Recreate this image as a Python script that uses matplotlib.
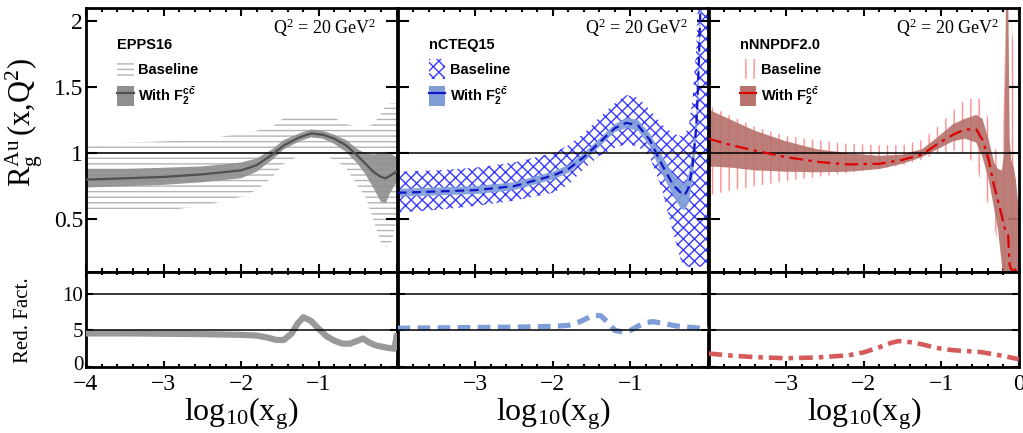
import matplotlib
matplotlib.use("Agg")
import matplotlib.pyplot as plt
import matplotlib.transforms as mtransforms
from matplotlib.patches import Patch
from matplotlib.lines import Line2D
from matplotlib.ticker import MultipleLocator, FixedLocator

plt.rcParams['font.family'] = 'Liberation Serif'
plt.rcParams['mathtext.fontset'] = 'custom'
plt.rcParams['mathtext.rm'] = 'Liberation Serif'
plt.rcParams['mathtext.it'] = 'Liberation Serif'
plt.rcParams['mathtext.bf'] = 'Liberation Sans:bold'
plt.rcParams['hatch.linewidth'] = 1.0

# ---- EPPS16 ----
epps_x = [-4.0, -3.5, -3.0, -2.5, -2.0, -1.8, -1.6, -1.45, -1.25, -1.1, -0.95,
          -0.8, -0.65, -0.5, -0.4, -0.3, -0.2, -0.14, -0.08, -0.03, 0.0]
epps_base_hi = [1.06, 1.08, 1.09, 1.10, 1.15, 1.17, 1.20, 1.27, 1.28, 1.28, 1.28,
                1.27, 1.22, 1.20, 1.20, 1.22, 1.30, 1.36, 1.38, 1.38, 1.38]
epps_base_lo = [0.55, 0.56, 0.565, 0.60, 0.67, 0.72, 0.82, 0.92, 0.98, 1.0, 0.98,
                0.95, 0.89, 0.75, 0.67, 0.50, 0.32, 0.29, 0.30, 0.40, 0.50]
epps_hi = [0.88, 0.88, 0.89, 0.90, 0.93, 0.96, 1.03, 1.10, 1.15, 1.18, 1.17,
           1.14, 1.10, 1.03, 1.00, 0.99, 1.00, 1.01, 1.00, 0.98, 0.97]
epps_lo = [0.74, 0.75, 0.76, 0.78, 0.81, 0.86, 0.95, 1.03, 1.09, 1.12, 1.11,
           1.07, 1.01, 0.92, 0.84, 0.74, 0.63, 0.62, 0.70, 0.75, 0.78]
epps_cv = [0.80, 0.81, 0.82, 0.84, 0.87, 0.91, 0.99, 1.06, 1.12, 1.15, 1.14,
           1.11, 1.06, 0.98, 0.92, 0.86, 0.82, 0.81, 0.83, 0.85, 0.86]

epps_rf_x = [-4.0, -3.5, -3.0, -2.5, -2.0, -1.8, -1.65, -1.55, -1.45, -1.35, -1.27,
             -1.2, -1.1, -1.0, -0.9, -0.8, -0.7, -0.6, -0.5, -0.43, -0.36, -0.28,
             -0.2, -0.1, -0.03, -0.01, 0.0]
epps_rf = [4.6, 4.6, 4.55, 4.5, 4.4, 4.3, 4.0, 3.7, 3.7, 4.6, 6.0,
           6.8, 6.3, 5.2, 4.2, 3.6, 3.2, 3.2, 3.6, 3.9, 3.4, 3.0,
           2.8, 2.6, 2.5, 3.5, 4.2]

# ---- nCTEQ15 ----
ncteq_x = [-4.0, -3.5, -3.0, -2.5, -2.0, -1.8, -1.6, -1.4, -1.2, -1.05, -0.9,
           -0.75, -0.6, -0.45, -0.35, -0.3, -0.25, -0.2, -0.15, -0.12, -0.1,
           -0.07, 0.0]
ncteq_base_hi = [0.86, 0.87, 0.89, 0.93, 1.00, 1.06, 1.15, 1.27, 1.38, 1.44, 1.42,
                 1.33, 1.22, 1.15, 1.13, 1.14, 1.20, 1.40, 1.80, 2.30, 2.30,
                 2.30, 2.30]
ncteq_base_lo = [0.55, 0.57, 0.60, 0.64, 0.70, 0.76, 0.88, 0.98, 1.04, 1.07, 1.05,
                 0.97, 0.74, 0.40, 0.19, 0.15, 0.14, 0.13, 0.13, 0.14, 0.14,
                 0.14, 0.14]
ncteq_hi = [0.73, 0.74, 0.75, 0.78, 0.86, 0.91, 1.00, 1.11, 1.22, 1.27, 1.25,
            1.15, 0.99, 0.84, 0.78, 0.77, 0.84, 1.00, 1.30, 1.80, 2.20,
            2.30, 2.30]
ncteq_lo = [0.67, 0.68, 0.69, 0.72, 0.80, 0.85, 0.94, 1.05, 1.16, 1.19, 1.17,
            1.05, 0.85, 0.68, 0.58, 0.57, 0.62, 0.80, 1.10, 1.50, 1.95,
            2.30, 2.30]
ncteq_cv = [0.70, 0.71, 0.72, 0.75, 0.83, 0.88, 0.97, 1.08, 1.19, 1.23, 1.21,
            1.10, 0.92, 0.76, 0.70, 0.68, 0.74, 0.90, 1.20, 1.65, 2.06,
            2.30, 2.30]

ncteq_rf_x = [-4.0, -3.5, -3.0, -2.5, -2.0, -1.8, -1.65, -1.55, -1.47, -1.38, -1.3,
              -1.2, -1.1, -1.0, -0.9, -0.8, -0.7, -0.6, -0.5, -0.4, -0.2, 0.0]
ncteq_rf = [5.3, 5.35, 5.4, 5.45, 5.55, 5.7, 6.2, 6.7, 7.1, 7.0, 6.2,
            5.0, 4.8, 5.0, 5.6, 6.1, 6.2, 6.0, 5.8, 5.6, 5.4, 5.2]

# ---- nNNPDF2.0 ----
nnpdf_x = [-4.0, -3.7, -3.4, -3.0, -2.6, -2.2, -1.8, -1.5, -1.25, -1.05, -0.85,
           -0.7, -0.55, -0.47, -0.39, -0.32, -0.27, -0.22, -0.19, -0.165, -0.14,
           -0.12, -0.1, -0.07, -0.04, 0.0]
nnpdf_base_hi = [1.36, 1.28, 1.20, 1.13, 1.10, 1.07, 1.06, 1.06, 1.10, 1.20, 1.32,
                 1.40, 1.42, 1.40, 1.25, 1.05, 1.00, 1.00, 1.50, 2.30, 2.30,
                 2.30, 2.00, 1.80, 1.60, 1.20]
nnpdf_base_lo = [0.68, 0.72, 0.75, 0.79, 0.82, 0.85, 0.88, 0.91, 0.95, 1.00, 1.02,
                 1.00, 0.90, 0.74, 0.60, 0.45, 0.30, 0.10, 0.0, 0.0, 0.0,
                 0.0, 0.0, 0.0, 0.0, 0.0]
nnpdf_hi = [1.33, 1.25, 1.17, 1.09, 1.03, 1.00, 0.98, 0.99, 1.03, 1.12, 1.22,
            1.26, 1.29, 1.26, 1.10, 0.93, 0.88, 0.87, 1.00, 2.30, 2.30,
            1.10, 0.95, 0.90, 0.80, 0.55]
nnpdf_lo = [0.90, 0.89, 0.87, 0.86, 0.855, 0.86, 0.88, 0.92, 0.97, 1.03, 1.09,
            1.11, 1.08, 0.97, 0.80, 0.58, 0.42, 0.15, 0.0, 0.0, 0.0,
            0.0, 0.0, 0.0, 0.0, 0.0]
nnpdf_cv = [1.11, 1.06, 1.02, 0.97, 0.935, 0.915, 0.92, 0.95, 0.99, 1.07, 1.14,
            1.18, 1.18, 1.10, 0.95, 0.75, 0.64, 0.52, 0.44, 0.41, 0.38,
            0.15, 0.12, 0.11, 0.12, 0.14]

nnpdf_rf_x = [-4.0, -3.7, -3.4, -3.0, -2.6, -2.2, -2.0, -1.8, -1.65, -1.55, -1.4,
              -1.25, -1.1, -1.0, -0.85, -0.7, -0.5, -0.3, -0.15, 0.0]
nnpdf_rf = [1.85, 1.55, 1.35, 1.2, 1.3, 1.6, 2.0, 2.7, 3.3, 3.55, 3.4,
            3.1, 2.7, 2.5, 2.3, 2.2, 2.05, 1.7, 1.4, 1.05]

names = ['EPPS16', 'nCTEQ15', 'nNNPDF2.0']

W, H = 1023.0, 433.0
fig = plt.figure(figsize=(W / 100, H / 100), dpi=100)

lefts = [86, 397.5, 708.5]
pw = 310.5
top_axes = []
bot_axes = []
for l in lefts:
    top_axes.append(fig.add_axes([l / W, (H - 272) / H, pw / W, (272 - 8) / H]))
    bot_axes.append(fig.add_axes([l / W, (H - 367) / H, pw / W, (367 - 272) / H]))


def style_axes(ax, top):
    ax.set_xlim(-4, 0)
    for s in ax.spines.values():
        s.set_linewidth(2.0)
    ax.xaxis.set_major_locator(MultipleLocator(1))
    ax.xaxis.set_minor_locator(MultipleLocator(0.2))
    ax.tick_params(which='both', direction='in', top=True, right=True, width=1.5)
    if top:
        ax.set_ylim(0.1, 2.1)
        ax.yaxis.set_major_locator(FixedLocator([0.5, 1, 1.5, 2]))
        ax.tick_params(axis='y', which='major', length=8)
        ax.tick_params(axis='x', which='major', length=6)
        ax.tick_params(axis='x', which='minor', length=3)
        ax.axhline(1, color='black', lw=1.1, zorder=4)
        ax.set_xticklabels([])
    else:
        ax.set_ylim(0, 13)
        ax.yaxis.set_major_locator(FixedLocator([0, 5, 10]))
        ax.tick_params(axis='y', which='major', length=5)
        ax.tick_params(axis='x', which='major', length=4)
        ax.tick_params(axis='x', which='minor', length=2)
        ax.axhline(5, color='black', lw=1.1, zorder=4)
        ax.axhline(10, color='black', lw=1.1, zorder=4)
    ax.tick_params(axis='y', which='minor', left=False, right=False)
    ax.tick_params(labelsize=17, pad=2)


for i in range(3):
    style_axes(top_axes[i], True)
    style_axes(bot_axes[i], False)
    if i > 0:
        top_axes[i].set_yticklabels([])
        bot_axes[i].set_yticklabels([])

top_axes[0].set_yticklabels(['0.5', '1', '1.5', '2'])
bot_axes[0].set_yticklabels(['0', '5', '10'])
bot_axes[0].tick_params(axis='y', labelsize=15)
# nudge the "0" up a little so it clears the "-4" below it
zero_lab = bot_axes[0].get_yticklabels()[0]
zero_lab.set_transform(zero_lab.get_transform() +
                       mtransforms.ScaledTranslation(0, 3 / 72, fig.dpi_scale_trans))

xlab_sets = [['\u22124', '\u22123', '\u22122', '\u22121', ''],
             ['', '\u22123', '\u22122', '\u22121', ''],
             ['', '\u22123', '\u22122', '\u22121', '0']]
for ax, labs in zip(bot_axes, xlab_sets):
    ax.set_xticks([-4, -3, -2, -1, 0])
    ax.set_xticklabels(labs)
    ax.tick_params(axis='x', pad=5)
    ax.set_xlabel(r'$\mathrm{log_{10}(x_g)}$', fontsize=23, labelpad=0)

# baseline hatches, with-F2 bands and central values
specs = [
    dict(x=epps_x, bhi=epps_base_hi, blo=epps_base_lo, hi=epps_hi, lo=epps_lo, cv=epps_cv,
         hatch='---', hcol='#b4b4b4', band='#8f8f8f', lcol='#505050', ls='-',
         rfx=epps_rf_x, rf=epps_rf, rfcol='#999999', rfls='-', rflw=4.5),
    dict(x=ncteq_x, bhi=ncteq_base_hi, blo=ncteq_base_lo, hi=ncteq_hi, lo=ncteq_lo, cv=ncteq_cv,
         hatch='xxx', hcol='#3a3aff', band='#7f9ed8', lcol='#1414c8', ls=(0, (4, 2.5)),
         rfx=ncteq_rf_x, rf=ncteq_rf, rfcol='#7f9ed8', rfls=(0, (2.4, 1.4)), rflw=3.8),
    dict(x=nnpdf_x, bhi=nnpdf_base_hi, blo=nnpdf_base_lo, hi=nnpdf_hi, lo=nnpdf_lo, cv=nnpdf_cv,
         hatch='||', hcol='#ff8c8c', band='#b7736e', lcol='#dd0000', ls=(0, (6, 2.5, 1.5, 2.5)),
         rfx=nnpdf_rf_x, rf=nnpdf_rf, rfcol='#d65a5a', rfls=(0, (3.0, 1.3, 1.0, 1.3)), rflw=3.3),
]

for i, sp in enumerate(specs):
    ax = top_axes[i]
    ax.fill_between(sp['x'], sp['blo'], sp['bhi'], facecolor='none', edgecolor=sp['hcol'],
                    hatch=sp['hatch'], linewidth=0, zorder=1)
    ax.fill_between(sp['x'], sp['lo'], sp['hi'], facecolor=sp['band'], edgecolor='none',
                    alpha=0.92, zorder=2)
    ax.plot(sp['x'], sp['cv'], color=sp['lcol'], ls=sp['ls'], lw=1.6, zorder=5)

    base_h = Patch(facecolor='none', edgecolor=sp['hcol'], hatch=sp['hatch'], linewidth=0)
    band_h = (Patch(facecolor=sp['band'], edgecolor='none'),
              Line2D([], [], color=sp['lcol'], ls='-', lw=1.6))
    ax.legend([base_h, band_h], ['Baseline', r'With $\mathbf{F_2^{c\bar{c}}}$'],
              title=names[i], loc='upper left', bbox_to_anchor=(0.1, 0.885),
              frameon=False, borderpad=0, borderaxespad=0,
              handlelength=1.15, handleheight=1.7, handletextpad=0.3,
              labelspacing=0.45, alignment='left',
              prop={'family': 'Liberation Sans', 'weight': 'bold', 'size': 10.5},
              title_fontproperties={'family': 'Liberation Sans', 'weight': 'bold',
                                    'size': 10.5})
    ax.text(0.935, 0.925, r'$\mathrm{Q^2}$ = 20 GeV$^\mathrm{2}$', transform=ax.transAxes,
            ha='right', va='center', fontsize=13)

    bx = bot_axes[i]
    bx.plot(sp['rfx'], sp['rf'], color=sp['rfcol'], ls=sp['rfls'], lw=sp['rflw'], zorder=3)

fig.text(24 / W, 1 - 123 / H, r'$\mathrm{R_g^{Au}\,(x{,}Q^2)}$', rotation=90,
         ha='center', va='center', fontsize=22)
fig.text(24 / W, 1 - 320 / H, 'Red. Fact.', rotation=90, ha='center', va='center',
         fontsize=15)

fig.savefig('out.png', dpi=100)
